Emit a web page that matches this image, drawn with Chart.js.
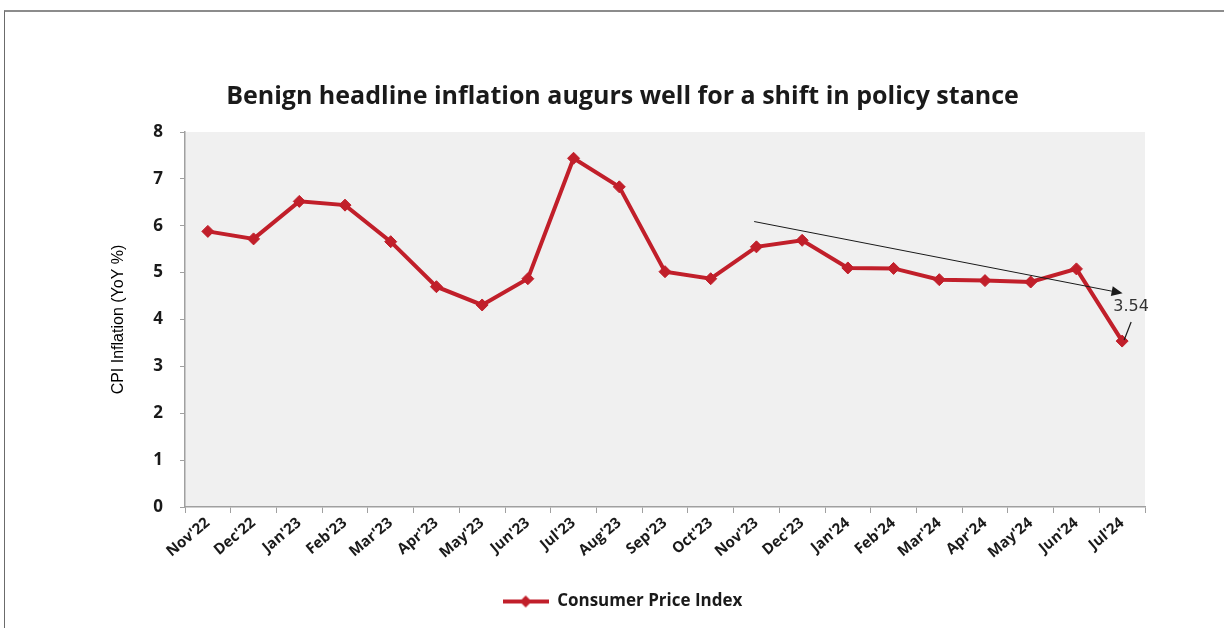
<!DOCTYPE html>
<html>
<head>
<meta charset="utf-8">
<script src="https://cdn.jsdelivr.net/npm/chart.js@4.4.1/dist/chart.umd.min.js"></script>
<style>
  html, body { margin: 0; padding: 0; background: #fff; overflow: hidden; }
  #frame { position: absolute; left: 4px; top: 10px; width: 1400px; height: 800px;
           border-top: 2px solid #8c8c8c; border-left: 1px solid #6b6b6b; }
  #wrap { position: absolute; left: 0; top: 0; width: 1224px; height: 628px; }
</style>
</head>
<body>
<div id="frame"></div>
<div id="wrap"><canvas id="chart" width="1224" height="628"></canvas></div>
<script>
// Data
const months = ["Nov'22", "Dec'22", "Jan'23", "Feb'23", "Mar'23", "Apr'23", "May'23",
                "Jun'23", "Jul'23", "Aug'23", "Sep'23", "Oct'23", "Nov'23", "Dec'23",
                "Jan'24", "Feb'24", "Mar'24", "Apr'24", "May'24", "Jun'24", "Jul'24"];
const cpi = [5.88, 5.72, 6.52, 6.44, 5.66, 4.70, 4.31, 4.87, 7.44, 6.83,
             5.02, 4.87, 5.55, 5.69, 5.10, 5.09, 4.85, 4.83, 4.80, 5.08, 3.54];

// Trend arrow, in category index / value units
const trendX = [11.95, 20.01];
const trendY = [6.09, 4.56];
const lastLabel = '3.54';

const RED = '#c11f2a';

// Legend marker: short line with a diamond in the middle
function makeLegendMarker() {
    const c = document.createElement('canvas');
    c.width = 46; c.height = 14;
    const ctx = c.getContext('2d');
    ctx.strokeStyle = RED;
    ctx.lineWidth = 4;
    ctx.beginPath();
    ctx.moveTo(0, 7); ctx.lineTo(46, 7);
    ctx.stroke();
    ctx.fillStyle = RED;
    ctx.beginPath();
    ctx.moveTo(23, 1); ctx.lineTo(29, 7); ctx.lineTo(23, 13); ctx.lineTo(17, 7);
    ctx.closePath();
    ctx.fill();
    return c;
}

// Grey plot background
const plotBackground = {
    id: 'plotBackground',
    beforeDraw(chart) {
        const { ctx, chartArea: a } = chart;
        ctx.save();
        ctx.fillStyle = '#f0f0f0';
        ctx.fillRect(a.left, a.top, a.right - a.left, a.bottom - a.top);
        ctx.restore();
    }
};

// Trend arrow and the label on the last point
const annotations = {
    id: 'annotations',
    afterDatasetsDraw(chart) {
        const { ctx, scales: { x, y } } = chart;
        const x1 = x.getPixelForValue(trendX[0]), y1 = y.getPixelForValue(trendY[0]);
        const x2 = x.getPixelForValue(trendX[1]), y2 = y.getPixelForValue(trendY[1]);
        ctx.save();
        ctx.strokeStyle = '#1a1a1a';
        ctx.fillStyle = '#1a1a1a';
        ctx.lineWidth = 1;
        const ang = Math.atan2(y2 - y1, x2 - x1);
        const head = 11;
        const bx = x2 - head * Math.cos(ang), by = y2 - head * Math.sin(ang);
        ctx.beginPath();
        ctx.moveTo(x1, y1); ctx.lineTo(bx, by);
        ctx.stroke();
        ctx.beginPath();
        ctx.moveTo(x2, y2);
        ctx.lineTo(bx + 5 * Math.sin(ang), by - 5 * Math.cos(ang));
        ctx.lineTo(bx - 5 * Math.sin(ang), by + 5 * Math.cos(ang));
        ctx.closePath();
        ctx.fill();

        // label of the last point with a leader line
        const last = cpi.length - 1;
        const px = x.getPixelForValue(last), py = y.getPixelForValue(cpi[last]);
        ctx.lineWidth = 1.2;
        ctx.beginPath();
        ctx.moveTo(px + 2, py - 1); ctx.lineTo(px + 9, py - 19);
        ctx.stroke();
        ctx.font = '16px "DejaVu Sans"';
        ctx.fillStyle = '#333';
        ctx.textAlign = 'center';
        ctx.textBaseline = 'middle';
        ctx.fillText(lastLabel, px + 9, py - 34);
        ctx.restore();
    }
};

const boldFont = size => ({ family: '"Open Sans", sans-serif', size: size, weight: 'bold' });

new Chart(document.getElementById('chart'), {
    type: 'line',
    data: {
        labels: months,
        datasets: [{
            label: 'Consumer Price Index',
            data: cpi,
            borderColor: RED,
            backgroundColor: RED,
            borderWidth: 4,
            pointStyle: 'rectRot',
            pointRadius: 6,
            pointHoverRadius: 6,
            pointBackgroundColor: RED,
            pointBorderColor: RED,
            pointBorderWidth: 1,
            tension: 0
        }]
    },
    options: {
        responsive: false,
        animation: false,
        devicePixelRatio: 1,
        layout: { padding: { left: 100, right: 79, top: 0, bottom: 8 } },
        plugins: {
            title: {
                display: true,
                text: 'Benign headline inflation augurs well for a shift in policy stance',
                color: '#1a1a1a',
                font: boldFont(25),
                padding: { top: 82, bottom: 20 }
            },
            legend: {
                position: 'bottom',
                labels: {
                    usePointStyle: true,
                    pointStyle: makeLegendMarker(),
                    pointStyleWidth: 46,
                    color: '#1a1a1a',
                    font: boldFont(17),
                    padding: 10
                }
            },
            tooltip: { enabled: false }
        },
        scales: {
            x: {
                offset: true,
                grid: { display: true, drawOnChartArea: false, offset: true, tickLength: 6, color: '#a0a0a0' },
                border: { color: '#a0a0a0', width: 1.5 },
                ticks: { color: '#1a1a1a', font: boldFont(15), minRotation: 40, maxRotation: 40, padding: 1 },
                afterFit(scale) { scale.height = 76; }
            },
            y: {
                min: 0,
                max: 8,
                grid: { display: true, drawOnChartArea: false, tickLength: 5, color: '#a0a0a0' },
                border: { color: '#a0a0a0', width: 1.5 },
                ticks: { stepSize: 1, color: '#1a1a1a', padding: 17, font: boldFont(17) },
                title: {
                    display: true,
                    text: 'CPI Inflation (YoY %)',
                    color: '#000',
                    font: { family: '"Liberation Sans Narrow", "Liberation Sans", sans-serif', size: 16 },
                    padding: { top: 9, bottom: 0 }
                },
                afterFit(scale) { scale.width = 85; }
            }
        }
    },
    plugins: [plotBackground, annotations]
});
</script>
</body>
</html>
